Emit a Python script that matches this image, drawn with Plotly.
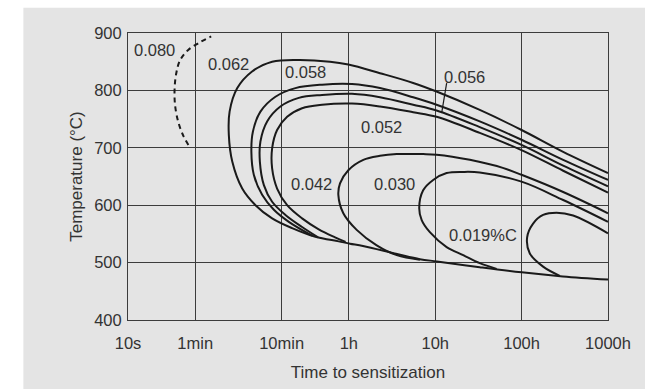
import math
import plotly.graph_objects as go

# ---- axis ticks ----
x_tickvals = [10, 60, 600, 3600, 36000, 360000, 3600000]  # seconds
x_ticktext = ["10s", "1min", "10min", "1h", "10h", "100h", "1000h"]
y_tickvals = [400, 500, 600, 700, 800, 900]

# ---- curves: time to sensitization (s) vs temperature (°C) ----
c080_t = [50, 44, 38.5, 35.2, 34.6, 36.2, 40.2, 50.2, 68.5, 91.8]
c080_T = [705, 720, 743, 772, 801, 830, 853, 871, 884, 894]

c062_t = [3.6e6, 1.09e6, 3.6e5, 1.18e5, 3.73e4, 2.0e4, 8260, 3550, 2180, 948,
          466, 273, 184, 150, 147, 161, 210, 299, 466, 793,
          1476, 2750, 3715, 5250, 1.30e4, 2.39e4, 3.77e4, 1.18e5, 3.61e5, 1.08e6,
          3.6e6]
c062_T = [656, 693, 731, 766, 798, 813, 830, 845, 850, 853,
          850, 833, 804, 763, 722, 676, 629, 600, 577, 560,
          545, 537, 533, 529, 515, 506, 502, 492, 483, 476,
          470.5]

c058_t = [3.6e6, 1.09e6, 3.59e5, 1.18e5, 3.73e4, 2.0e4, 8260, 3917, 1763, 866,
          509, 341, 279, 268, 286, 357, 488, 727, 1352]
c058_T = [644, 679, 714, 746, 775, 788, 804, 811, 810, 804,
          789, 763, 728, 693, 653, 618, 592, 571, 547]

c056_t = [3.6e6, 1.09e6, 3.59e5, 1.18e5, 3.73e4, 2.0e4, 8260, 3917, 1763, 948,
          581, 408, 341, 336, 374, 466, 664, 1035, 1585]
c056_T = [633, 669, 705, 736, 765, 775, 788, 794, 792, 787,
          772, 746, 711, 676, 635, 606, 583, 562, 544]

c052_t = [3.6e6, 1.09e6, 3.59e5, 1.18e5, 3.73e4, 2.0e4, 8260, 3917, 1763, 1035,
          695, 532, 466, 466, 532, 695, 1035, 1614, 2494, 3300]
c052_T = [622, 660, 696, 726, 754, 762, 772, 777, 775, 769,
          754, 731, 699, 664, 629, 600, 577, 558, 544, 536]

c042_t = [3.6e6, 1.09e6, 3.59e5, 2.18e5, 9.06e4, 3.73e4, 2.61e4, 1.29e4, 8260,
          5297, 3550, 2846, 2722, 3107, 4438, 7566, 1.29e4, 2.39e4]
c042_T = [586, 623, 653, 665, 679, 688, 689, 689, 686,
          679, 661, 638, 618, 586, 557, 530, 513, 505]

c030_t = [3.6e6, 1.09e6, 3.59e5, 1.18e5, 7.59e4, 4.88e4, 3.41e4, 2.61e4, 2.35e4,
          2.51e4, 3.12e4, 4.88e4, 7.59e4, 1.18e5, 1.85e5]
c030_T = [571, 609, 641, 657, 658, 656, 644, 626, 595,
          574, 553, 527, 513, 499, 489]

c019_t = [3.6e6, 1.42e6, 9.12e5, 6.38e5, 4.89e5, 4.17e5, 4.48e5, 6.38e5, 9.95e5]
c019_T = [551, 582, 587, 583, 568, 544, 516, 493, 477]

# leader line for the 0.056 label
lead056_t = [4.88e4, 4.27e4]
lead056_T = [812.7, 760.3]

# curve labels
label_text = ["0.080", "0.062", "0.058", "0.056", "0.052", "0.042", "0.030", "0.019%C"]
label_t = [20, 144, 1130, 7.83e4, 8530, 1340, 1.205e4, 1.29e5]
label_T = [870.3, 846.4, 831.9, 824.2, 736.4, 636.9, 637.4, 547.9]

LINE = "#1a1a1a"
GRID = "#3c3c3c"
TXT = "#333333"
BG = "#e4e4e4"
FONT = "Liberation Sans, Arial, sans-serif"

fig = go.Figure()

fig.add_trace(go.Scatter(x=c080_t, y=c080_T, mode="lines",
                         line=dict(color=LINE, width=2, dash="5px,4px", shape="spline"),
                         hoverinfo="skip", showlegend=False))
for t, T in [(c062_t, c062_T), (c058_t, c058_T), (c056_t, c056_T), (c052_t, c052_T),
             (c042_t, c042_T), (c030_t, c030_T), (c019_t, c019_T)]:
    fig.add_trace(go.Scatter(x=t, y=T, mode="lines",
                             line=dict(color=LINE, width=2, shape="spline", smoothing=1),
                             hoverinfo="skip", showlegend=False))
fig.add_trace(go.Scatter(x=lead056_t, y=lead056_T, mode="lines",
                         line=dict(color=LINE, width=1.2),
                         hoverinfo="skip", showlegend=False))

for txt, t, T in zip(label_text, label_t, label_T):
    fig.add_annotation(x=math.log10(t), y=T, text=txt, showarrow=False,
                       font=dict(size=16.5, color=TXT, family=FONT),
                       xanchor="center", yanchor="middle")

# grey panel behind the chart
fig.add_shape(type="rect", xref="paper", yref="paper",
              x0=-0.218, x1=1.2, y0=-0.4, y1=1.088,
              fillcolor=BG, line=dict(width=0), layer="below")

fig.update_xaxes(type="log", range=[1, math.log10(3.6e6)], automargin=False,
                 tickvals=x_tickvals, ticktext=x_ticktext,
                 showgrid=True, gridcolor=GRID, gridwidth=1,
                 showline=True, linecolor=GRID, linewidth=1, mirror=True,
                 ticks="outside", ticklen=8, tickcolor="rgba(0,0,0,0)",
                 tickfont=dict(size=16.5, color=TXT, family=FONT),
                 zeroline=False,
                 title=dict(text="Time to sensitization",
                            font=dict(size=17, color=TXT, family=FONT), standoff=15))
fig.update_yaxes(range=[400, 900], tickvals=y_tickvals, automargin=False,
                 showgrid=True, gridcolor=GRID, gridwidth=1,
                 showline=True, linecolor=GRID, linewidth=1, mirror=True,
                 ticks="outside", ticklen=2, tickcolor="rgba(0,0,0,0)",
                 tickfont=dict(size=16.5, color=TXT, family=FONT),
                 zeroline=False,
                 title=dict(text="Temperature (°C)",
                            font=dict(size=17, color=TXT, family=FONT), standoff=7))

fig.update_layout(width=645, height=389, autosize=False,
                  margin=dict(l=128, r=37, t=33, b=69),
                  paper_bgcolor="white", plot_bgcolor="rgba(0,0,0,0)",
                  font=dict(family=FONT, color=TXT))

fig.write_html("out.html", config=dict(displayModeBar=False),
               post_script="document.body.style.margin='0';document.body.style.overflow='hidden';")
